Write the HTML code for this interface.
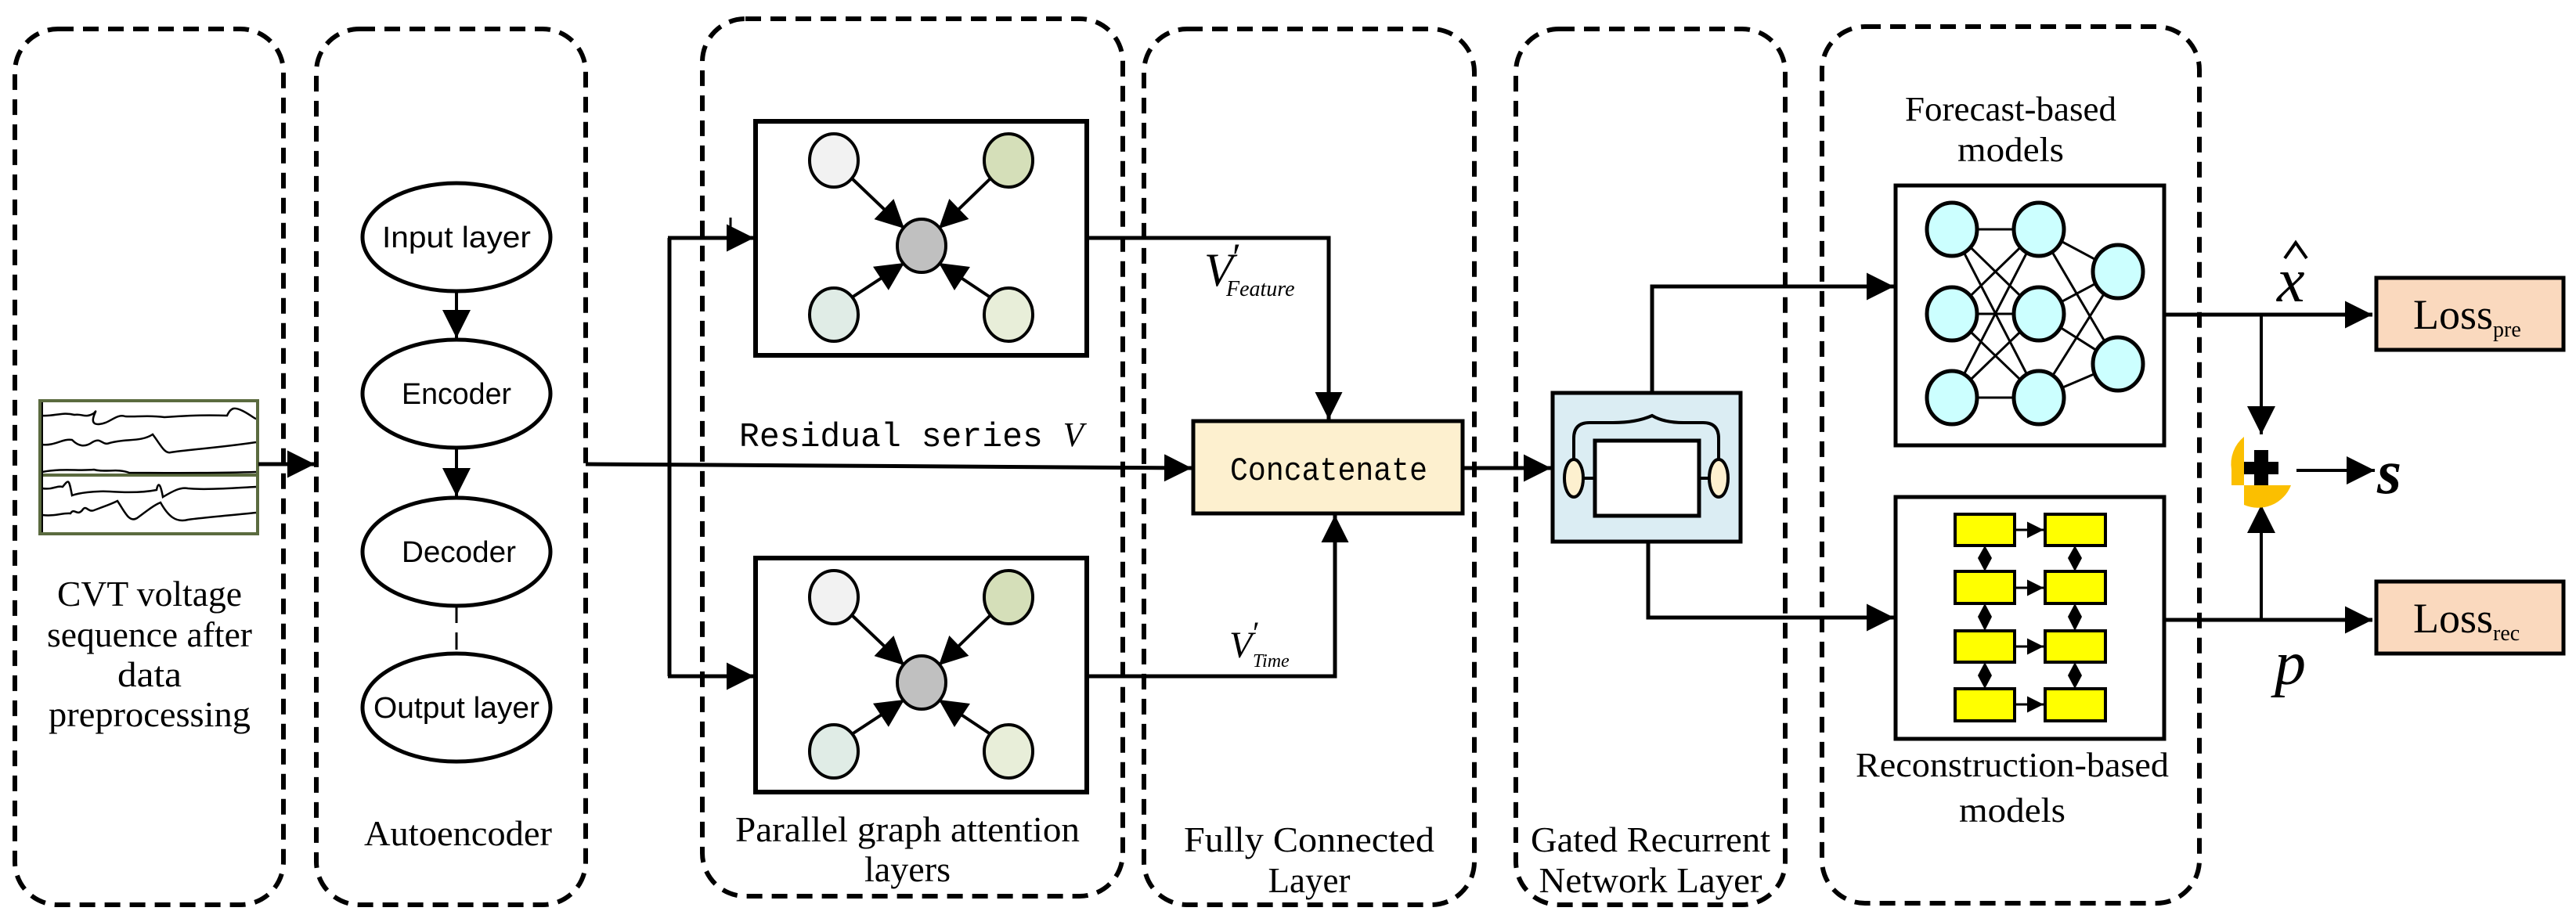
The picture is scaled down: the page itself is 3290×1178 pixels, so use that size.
<!DOCTYPE html>
<html><head><meta charset="utf-8"><style>
html,body{margin:0;padding:0;background:#fff;}
svg{display:block;}
.ser{font-family:"Liberation Serif",serif;}
.san{font-family:"Liberation Sans",sans-serif;}
.mono{font-family:"Liberation Mono",monospace;}
</style></head><body>
<svg width="3290" height="1178" viewBox="0 0 3290 1178" xmlns="http://www.w3.org/2000/svg">
<defs>
<marker id="ah" viewBox="0 0 10 10" refX="10" refY="5" markerWidth="9" markerHeight="7" markerUnits="strokeWidth" orient="auto"><path d="M0,0 L10,5 L0,10 z" fill="#000"/></marker>
<marker id="ah2" viewBox="0 0 10 10" refX="10" refY="5" markerWidth="11" markerHeight="9" markerUnits="strokeWidth" orient="auto"><path d="M0,0 L10,5 L0,10 z" fill="#000"/></marker>
</defs>
<g fill="none" stroke="#000" stroke-width="6" stroke-dasharray="20 12">
<rect x="19" y="37" width="343" height="1119" rx="55"/>
<rect x="404" y="37" width="344" height="1119" rx="55"/>
<rect x="897" y="24" width="537" height="1121" rx="55"/>
<rect x="1461" y="37" width="422" height="1119" rx="55"/>
<rect x="1936" y="37" width="344" height="1119" rx="55"/>
<rect x="2327" y="34" width="482" height="1120" rx="55"/>
</g>

<!-- signal image -->
<rect x="51" y="512" width="278" height="170" fill="#fff" stroke="#5b6b3f" stroke-width="4"/>
<line x1="51" y1="607" x2="329" y2="607" stroke="#5b6b3f" stroke-width="4"/>
<line x1="54" y1="514" x2="54" y2="680" stroke="#000" stroke-width="2"/>
<g fill="none" stroke="#000" stroke-width="2.5">
<path d="M54,531 C70,532 80,526 95,530 C105,528 108,535 120,528 C128,518 110,542 125,542 C140,542 148,528 160,532 C170,533 190,530 210,533 C240,531 260,530 290,531 C295,520 300,520 310,525 C320,530 325,535 327,535"/>
<path d="M54,568 C70,570 80,560 92,562 C100,570 108,572 118,565 C130,558 130,570 140,566 C160,560 180,565 195,555 C205,568 210,580 218,578 C235,575 280,572 327,565"/>
<path d="M54,603 C80,598 100,602 120,600 C135,604 150,598 165,604 C200,604 260,605 327,603"/>
<path d="M54,624 C68,626 72,620 80,622 C88,612 88,612 92,633 C100,630 120,627 140,628 C170,630 190,628 200,626 C202,615 205,618 208,635 C220,628 230,622 240,624 C260,626 290,624 327,622"/>
<path d="M54,658 C70,660 80,655 90,656 C95,648 98,660 105,652 C110,644 112,655 120,652 C130,648 140,645 150,640 C160,655 165,668 175,662 C185,655 195,646 205,642 C215,660 225,668 240,664 C270,660 300,658 327,655"/>
</g>
<line x1="330" y1="593" x2="402" y2="593" stroke="#000" stroke-width="5" marker-end="url(#ah)"/>

<!-- autoencoder -->
<g fill="#fff" stroke="#000" stroke-width="5">
<ellipse cx="583" cy="303" rx="120" ry="69"/>
<ellipse cx="583" cy="503" rx="120" ry="69"/>
<ellipse cx="583" cy="705" rx="120" ry="69"/>
<ellipse cx="583" cy="904" rx="120" ry="69"/>
</g>
<line x1="583" y1="372" x2="583" y2="432" stroke="#000" stroke-width="4" marker-end="url(#ah2)"/>
<line x1="583" y1="572" x2="583" y2="634" stroke="#000" stroke-width="4" marker-end="url(#ah2)"/>
<line x1="583" y1="774" x2="583" y2="835" stroke="#000" stroke-width="3" stroke-dasharray="22 12"/>
<g class="san" font-size="38" text-anchor="middle">
<text x="583" y="316" textLength="190" lengthAdjust="spacingAndGlyphs">Input layer</text>
<text x="583" y="516" textLength="140" lengthAdjust="spacingAndGlyphs">Encoder</text>
<text x="586" y="718" textLength="146" lengthAdjust="spacingAndGlyphs">Decoder</text>
<text x="583" y="917" textLength="212" lengthAdjust="spacingAndGlyphs">Output layer</text>
</g>

<!-- residual lines -->
<path d="M748,593 L1522,598" stroke="#000" stroke-width="5" fill="none" marker-end="url(#ah)"/>
<path d="M855,598 L855,304" stroke="#000" stroke-width="5" fill="none"/>
<path d="M855,598 L855,864" stroke="#000" stroke-width="5" fill="none"/>
<line x1="853" y1="304" x2="963" y2="304" stroke="#000" stroke-width="5" marker-end="url(#ah)"/>
<line x1="853" y1="864" x2="963" y2="864" stroke="#000" stroke-width="5" marker-end="url(#ah)"/>
<line x1="933" y1="278" x2="933" y2="300" stroke="#000" stroke-width="3"/>
<text x="944" y="570" class="mono" font-size="44" fill="#000" textLength="440" lengthAdjust="spacingAndGlyphs">Residual series <tspan font-family="Liberation Serif" font-style="italic">V</tspan></text>

<!-- graph boxes -->
<g id="gb">
<rect x="965" y="155" width="423" height="299" fill="#fff" stroke="#000" stroke-width="6"/>
<g stroke="#000" stroke-width="4">
<line x1="1088" y1="228" x2="1155" y2="292" marker-end="url(#ah2)"/>
<line x1="1265" y1="228" x2="1199" y2="292" marker-end="url(#ah2)"/>
<line x1="1088" y1="380" x2="1155" y2="336" marker-end="url(#ah2)"/>
<line x1="1265" y1="380" x2="1199" y2="336" marker-end="url(#ah2)"/>
</g>
<g stroke="#000" stroke-width="4">
<ellipse cx="1065" cy="205" rx="31" ry="34" fill="#f2f2f2"/>
<ellipse cx="1288" cy="205" rx="31" ry="34" fill="#d5dfb9"/>
<ellipse cx="1177" cy="314" rx="31" ry="34" fill="#c0c0c0"/>
<ellipse cx="1065" cy="402" rx="31" ry="34" fill="#e0ece6"/>
<ellipse cx="1288" cy="402" rx="31" ry="34" fill="#e8eed9"/>
</g>
</g>
<use href="#gb" transform="translate(0,558)"/>

<!-- to concat -->
<path d="M1388,304 L1697,304 L1697,536" stroke="#000" stroke-width="5" fill="none" marker-end="url(#ah)"/>
<path d="M1388,864 L1705,864 L1705,658" stroke="#000" stroke-width="5" fill="none" marker-end="url(#ah)"/>
<text x="1538" y="365" class="ser" font-style="italic" font-size="60">V</text>
<text x="1574" y="345" class="ser" font-size="50">′</text>
<text x="1566" y="378" class="ser" font-style="italic" font-size="28">Feature</text>
<text x="1570" y="840" class="ser" font-style="italic" font-size="48">V</text>
<text x="1600" y="822" class="ser" font-size="40">′</text>
<text x="1600" y="852" class="ser" font-style="italic" font-size="24">Time</text>

<rect x="1524" y="538" width="344" height="118" fill="#fdf0cf" stroke="#000" stroke-width="5"/>
<text x="1697" y="613" class="mono" font-size="42" text-anchor="middle" textLength="252" lengthAdjust="spacingAndGlyphs">Concatenate</text>
<line x1="1868" y1="598" x2="1981" y2="598" stroke="#000" stroke-width="5" marker-end="url(#ah)"/>

<!-- GRU -->
<rect x="1983" y="502" width="240" height="190" fill="#dbedf3" stroke="#000" stroke-width="5"/>
<rect x="2037" y="563" width="133" height="96" fill="#fff" stroke="#000" stroke-width="5"/>
<line x1="2022" y1="611" x2="2037" y2="611" stroke="#000" stroke-width="4"/>
<line x1="2170" y1="611" x2="2183" y2="611" stroke="#000" stroke-width="4"/>
<path d="M2010,588 L2010,560 Q2010,540 2030,540 L2060,540 Q2090,540 2110,531 Q2125,540 2150,540 L2175,540 Q2195,540 2195,560 L2195,588" fill="none" stroke="#000" stroke-width="4"/>
<ellipse cx="2010" cy="611" rx="12" ry="24" fill="#fdf0cf" stroke="#000" stroke-width="4"/>
<ellipse cx="2195" cy="611" rx="12" ry="24" fill="#fdf0cf" stroke="#000" stroke-width="4"/>
<path d="M2110,502 L2110,366 L2419,366" stroke="#000" stroke-width="5" fill="none" marker-end="url(#ah)"/>
<path d="M2105,692 L2105,789 L2419,789" stroke="#000" stroke-width="5" fill="none" marker-end="url(#ah)"/>

<!-- forecast -->
<text x="2568" y="154" class="ser" font-size="44" text-anchor="middle" textLength="270" lengthAdjust="spacingAndGlyphs">Forecast-based</text>
<text x="2568" y="206" class="ser" font-size="44" text-anchor="middle" textLength="136" lengthAdjust="spacingAndGlyphs">models</text>
<rect x="2421" y="237" width="343" height="332" fill="#fff" stroke="#000" stroke-width="5"/>
<g stroke="#000" stroke-width="3">
<line x1="2493" y1="293" x2="2604" y2="293"/><line x1="2493" y1="293" x2="2604" y2="401"/><line x1="2493" y1="293" x2="2604" y2="508"/>
<line x1="2493" y1="401" x2="2604" y2="293"/><line x1="2493" y1="401" x2="2604" y2="401"/><line x1="2493" y1="401" x2="2604" y2="508"/>
<line x1="2493" y1="508" x2="2604" y2="293"/><line x1="2493" y1="508" x2="2604" y2="401"/><line x1="2493" y1="508" x2="2604" y2="508"/>
<line x1="2604" y1="293" x2="2705" y2="347"/><line x1="2604" y1="293" x2="2705" y2="465"/>
<line x1="2604" y1="401" x2="2705" y2="347"/><line x1="2604" y1="401" x2="2705" y2="465"/>
<line x1="2604" y1="508" x2="2705" y2="347"/><line x1="2604" y1="508" x2="2705" y2="465"/>
</g>
<g fill="#ccffff" stroke="#000" stroke-width="5">
<ellipse cx="2493" cy="293" rx="32" ry="34"/><ellipse cx="2493" cy="401" rx="32" ry="34"/><ellipse cx="2493" cy="508" rx="32" ry="34"/>
<ellipse cx="2604" cy="293" rx="32" ry="34"/><ellipse cx="2604" cy="401" rx="32" ry="34"/><ellipse cx="2604" cy="508" rx="32" ry="34"/>
<ellipse cx="2705" cy="347" rx="32" ry="34"/><ellipse cx="2705" cy="465" rx="32" ry="34"/>
</g>

<!-- reconstruction -->
<rect x="2421" y="635" width="343" height="309" fill="#fff" stroke="#000" stroke-width="5"/>
<g fill="#ffff00" stroke="#000" stroke-width="4">
<rect x="2497" y="657" width="76" height="40"/><rect x="2612" y="657" width="77" height="40"/>
<rect x="2497" y="730" width="76" height="41"/><rect x="2612" y="730" width="77" height="41"/>
<rect x="2497" y="806" width="76" height="40"/><rect x="2612" y="806" width="77" height="40"/>
<rect x="2497" y="880" width="76" height="41"/><rect x="2612" y="880" width="77" height="41"/>
</g>
<g stroke="#000" stroke-width="3">
<line x1="2573" y1="677" x2="2610" y2="677" marker-end="url(#ah)"/>
<line x1="2573" y1="751" x2="2610" y2="751" marker-end="url(#ah)"/>
<line x1="2573" y1="826" x2="2610" y2="826" marker-end="url(#ah)"/>
<line x1="2573" y1="900" x2="2610" y2="900" marker-end="url(#ah)"/>
</g>
<g fill="#000">
<path d="M2535,697 L2544,713 L2535,730 L2526,713 z"/><path d="M2650,697 L2659,713 L2650,730 L2641,713 z"/>
<path d="M2535,771 L2544,788 L2535,806 L2526,788 z"/><path d="M2650,771 L2659,788 L2650,806 L2641,788 z"/>
<path d="M2535,846 L2544,863 L2535,880 L2526,863 z"/><path d="M2650,846 L2659,863 L2650,880 L2641,863 z"/>
</g>
<text x="2570" y="992" class="ser" font-size="44" text-anchor="middle" textLength="400" lengthAdjust="spacingAndGlyphs">Reconstruction-based</text>
<text x="2570" y="1050" class="ser" font-size="44" text-anchor="middle" textLength="136" lengthAdjust="spacingAndGlyphs">models</text>

<!-- outputs -->
<line x1="2764" y1="402" x2="3030" y2="402" stroke="#000" stroke-width="5" marker-end="url(#ah)"/>
<line x1="2764" y1="792" x2="3030" y2="792" stroke="#000" stroke-width="5" marker-end="url(#ah)"/>
<line x1="2888" y1="402" x2="2888" y2="555" stroke="#000" stroke-width="4" marker-end="url(#ah2)"/>
<line x1="2888" y1="792" x2="2888" y2="645" stroke="#000" stroke-width="4" marker-end="url(#ah2)"/>
<path d="M2850,620 L2866,620 L2866,558 A45,45 0 0 0 2850,600 Z" fill="#fbbf00"/>
<path d="M2866,620 L2926,620 A45,45 0 0 1 2866,645 Z" fill="#fbbf00"/>
<rect x="2879" y="575" width="18" height="45" fill="#000"/>
<rect x="2866" y="590" width="44" height="16" fill="#000"/>
<line x1="2933" y1="601" x2="3033" y2="601" stroke="#000" stroke-width="4" marker-end="url(#ah2)"/>
<text x="3036" y="630" class="ser" font-style="italic" font-weight="bold" font-size="80">s</text>
<text x="2908" y="385" class="ser" font-style="italic" font-size="80">x</text>
<path d="M2918,330 L2932,310 L2946,330" fill="none" stroke="#000" stroke-width="4"/>
<text x="2905" y="874" class="ser" font-style="italic" font-size="80">p</text>

<rect x="3035" y="355" width="239" height="92" fill="#fad9be" stroke="#000" stroke-width="5"/>
<text x="3082" y="420" class="ser" font-size="54">Loss<tspan font-size="28" dy="10">pre</tspan></text>
<rect x="3035" y="743" width="239" height="92" fill="#fad9be" stroke="#000" stroke-width="5"/>
<text x="3082" y="808" class="ser" font-size="54">Loss<tspan font-size="28" dy="10">rec</tspan></text>

<!-- panel labels -->
<g class="ser" font-size="46" text-anchor="middle">
<text x="191" y="774" textLength="236" lengthAdjust="spacingAndGlyphs">CVT voltage</text>
<text x="191" y="826" textLength="262" lengthAdjust="spacingAndGlyphs">sequence after</text>
<text x="191" y="877" textLength="82" lengthAdjust="spacingAndGlyphs">data</text>
<text x="191" y="928" textLength="258" lengthAdjust="spacingAndGlyphs">preprocessing</text>
<text x="585" y="1080" textLength="240" lengthAdjust="spacingAndGlyphs">Autoencoder</text>
<text x="1159" y="1075" textLength="440" lengthAdjust="spacingAndGlyphs">Parallel graph attention</text>
<text x="1159" y="1126" textLength="110" lengthAdjust="spacingAndGlyphs">layers</text>
<text x="1672" y="1088" textLength="320" lengthAdjust="spacingAndGlyphs">Fully Connected</text>
<text x="1672" y="1140" textLength="105" lengthAdjust="spacingAndGlyphs">Layer</text>
<text x="2108" y="1088" textLength="306" lengthAdjust="spacingAndGlyphs">Gated Recurrent</text>
<text x="2108" y="1140" textLength="285" lengthAdjust="spacingAndGlyphs">Network Layer</text>
</g>
</svg>
</body></html>
